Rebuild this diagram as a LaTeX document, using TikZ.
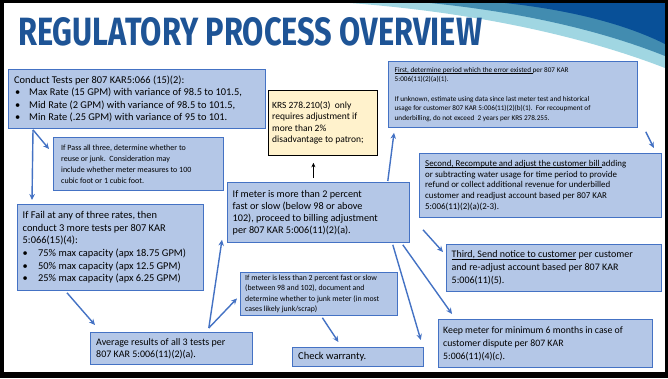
\documentclass[tikz,border=0pt]{standalone}
\usepackage{fontspec}
\setmainfont{Carlito}
\newfontfamily\titlefont{Fira Sans}
\usetikzlibrary{arrows.meta,calc}

\definecolor{boxfill}{RGB}{180,199,231}
\definecolor{boxline}{RGB}{68,114,196}
\definecolor{notefill}{RGB}{255,242,204}
\definecolor{titleblue}{RGB}{30,84,150}
\definecolor{wavelight}{RGB}{160,214,226}
\definecolor{waveteal}{RGB}{66,140,176}
\definecolor{wavedark}{RGB}{8,80,152}

\tikzset{
  bluebox/.style={draw=boxline, line width=0.8pt, fill=boxfill, inner sep=0pt},
  notebox/.style={draw=black, line width=0.8pt, fill=notefill, inner sep=0pt},
  flow/.style={draw=boxline, line width=1.4pt, -{Stealth[length=6pt,width=5.5pt]}},
  blackflow/.style={draw=black, line width=0.9pt, -{Stealth[length=4.5pt,width=4pt]}},
  boxtext/.style={anchor=west, align=left, inner sep=0pt},
}

% underlined run of text
\newsavebox\undlbox
\newcommand\undl[1]{\sbox\undlbox{#1}\rlap{\rule[-1.5pt]{\wd\undlbox}{0.55pt}}\usebox\undlbox}

% box: name, x1, y1, x2, y2, style, text indent, font size, line skip, text
\newcommand\slidebox[9]{%
  \node[#6, minimum width={(#4-#2)*1pt}, minimum height={(#5-#3)*1pt},
        anchor=north west] (#1) at (#2,#3) {};
  \node[boxtext, font={\fontsize{#8}{#9}\selectfont}] at ([xshift=#7]#1.west)}
\newcommand\bul[1]{\makebox[#1][l]{\textbullet}}

\begin{document}
\begin{tikzpicture}[x=1pt,y=-1pt]
\useasboundingbox (0,0) rectangle (668,378);
\fill[white] (0,0) rectangle (668,378);

% header swoosh
\fill[wavelight] (350,3) .. controls (470,12) and (580,35) .. (665,68) -- (665,3) -- cycle;
\fill[waveteal] (430,3) .. controls (520,12) and (600,30) .. (665,56) -- (665,3) -- cycle;
\fill[wavedark] (505,3) .. controls (570,10) and (625,24) .. (665,44) -- (665,3) -- cycle;

% slide frame
\fill[black] (0,0) rectangle (668,3);
\fill[black] (0,0) rectangle (4,378);
\fill[black] (0,372) rectangle (668,378);
\fill[black] (665,0) rectangle (668,378);

% title
\node[anchor=north west, inner sep=0pt, text=titleblue] (title) at (18,17)
  {\resizebox{464pt}{28pt}{\titlefont\bfseries REGULATORY PROCESS OVERVIEW}};

% boxes
\slidebox{conduct}{8}{69}{265}{128}{bluebox}{6pt}{10.4}{12.5}
  {Conduct Tests per 807 KAR5:066 (15)(2):\\
   \hspace{1pt}\bul{14pt}Max Rate (15 GPM) with variance of 98.5 to 101.5,\\
   \hspace{1pt}\bul{14pt}Mid Rate (2 GPM) with variance of 98.5 to 101.5,\\
   \hspace{1pt}\bul{14pt}Min Rate (.25 GPM) with variance of 95 to 101.};

\slidebox{pass}{53}{137}{223}{190}{bluebox}{8pt}{8}{11}
  {If Pass all three, determine whether to\\
   reuse or junk.\ \ Consideration may\\
   include whether meter measures to 100\\
   cubic foot or 1 cubic foot.};

\slidebox{fail}{17}{204}{203}{290}{bluebox}{5.5pt}{10.4}{12.7}
  {If Fail at any of three rates, then\\
   conduct 3 more tests per 807 KAR\\
   5:066(15)(4):\\
   \bul{15.5pt}75\% max capacity (apx 18.75 GPM)\\
   \bul{15.5pt}50\% max capacity (apx 12.5 GPM)\\
   \bul{15.5pt}25\% max capacity (apx 6.25 GPM)};

\slidebox{krs}{268}{90}{377}{155}{notebox}{4pt}{9.5}{11.6}
  {KRS 278.210(3)\ \ only\\
   requires adjustment if\\
   more than 2\%\\
   disadvantage to patron;};

\slidebox{more}{227}{182}{409}{242}{bluebox}{5.5pt}{10.2}{12}
  {If meter is more than 2 percent\\
   fast or slow (below 98 or above\\
   102), proceed to billing adjustment\\
   per 807 KAR 5:006(11)(2)(a).};

\slidebox{first}{388}{61}{637}{127}{bluebox}{6.5pt}{7.2}{9.7}
  {\undl{First, determine period which the error existed }per 807 KAR\\
   5:006(11)(2)(a)(1).\\[9.7pt]
   If unknown, estimate using data since last meter test and historical\\
   usage for customer 807 KAR 5:006(11)(2)(b)(1).\ \ For recoupment of\\
   underbilling, do not exceed\ \ 2 years per KRS 278.255.};

\slidebox{second}{419}{153}{661}{217}{bluebox}{6pt}{8.9}{10.8}
  {\undl{Second, Recompute and adjust the customer bill }adding\\
   or subtracting water usage for time period to provide\\
   refund or collect additional revenue for underbilled\\
   customer and readjust account based per 807 KAR\\
   5:006(11)(2)(a)(2-3).};

\slidebox{third}{446}{244}{661}{291}{bluebox}{5.5pt}{10}{13}
  {\undl{Third, Send notice to customer} per customer\\
   and re-adjust account based per 807 KAR\\
   5:006(11)(5).};

\slidebox{keep}{438}{319}{652}{367}{bluebox}{5pt}{9.8}{13}
  {Keep meter for minimum 6 months in case of\\
   customer dispute per 807 KAR\\
   5:006(11)(4)(c).};

\slidebox{less}{240}{272}{397}{315}{bluebox}{5pt}{7.8}{10.2}
  {If meter is less than 2 percent fast or slow\\
   (between 98 and 102), document and\\
   determine whether to junk meter (in most\\
   cases likely junk/scrap)};

\slidebox{warranty}{292}{347}{423}{366}{bluebox}{6pt}{10.5}{12.5}
  {Check warranty.};

\slidebox{average}{90}{332}{252}{364}{bluebox}{6pt}{10}{12}
  {Average results of all 3 tests per\\
   807 KAR 5:006(11)(2)(a).};

% connectors
\coordinate (split) at ($(conduct.south west)+(25,1)$);
\coordinate (avgtop) at ($(average.north east)+(-44,-4)$);

\draw[flow] (split) -- ($(pass.north west)+(-4,12)$);
\draw[flow] (split) -- ($(fail.north west)+(15,-4)$);
\draw[flow] ($(fail.south west)+(50,2)$) -- ($(average.north west)+(5,-7)$);
\draw[flow] (avgtop) -- ($(more.south west)+(-5,-3)$);
\draw[flow] (avgtop) -- ($(less.west)+(-3,4.5)$);
\draw[blackflow] ($(more.north)+(-5,-4)$) -- ($(krs.south)+(-9.5,7)$);
\draw[flow] ($(more.north east)+(-22,-1)$) -- ($(first.south west)+(6,5)$);
\draw[flow] ($(first.south east)+(8,4)$) -- ($(second.north east)+(-8,-5)$);
\draw[flow] ($(second.south west)+(4,12)$) -- ($(third.north west)+(-3,8)$);
\draw[flow] ($(more.south east)+(-17,2)$) -- ($(warranty.north east)+(-3,-7)$);
\draw[flow] ($(more.south east)+(-7,2)$) -- ($(keep.north west)+(14,-5)$);
\draw[flow] ($(less.south)+(3.5,2)$) -- ($(warranty.north)+(-19.5,-5)$);
\end{tikzpicture}
\end{document}
